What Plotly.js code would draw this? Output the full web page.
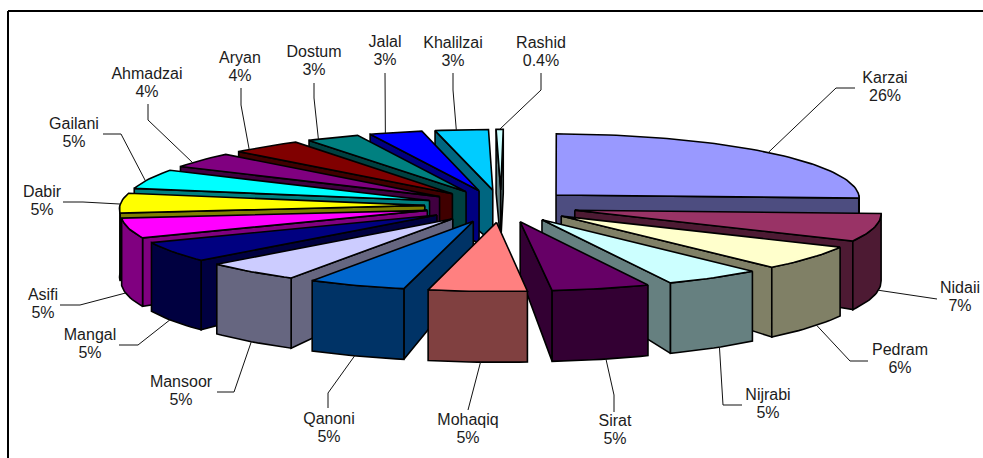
<!DOCTYPE html>
<html>
<head>
<meta charset="utf-8">
<script src="https://cdn.plot.ly/plotly-3.0.1.min.js"></script>
<style>html,body{margin:0;padding:0;background:#fff}#chart{width:983px;height:458px}</style>
</head>
<body>
<div id="chart"></div>
<script>
// Candidate shares, clockwise from twelve o'clock
const candidates = ["Karzai","Nidaii","Pedram","Nijrabi","Sirat","Mohaqiq","Qanoni","Mansoor","Mangal","Asifi","Dabir","Gailani","Ahmadzai","Aryan","Dostum","Jalal","Khalilzai","Rashid"];
const shares = [26,7,6,5,5,5,5,5,5,5,5,5,4,4,3,3,3,0.4];
const shareLabels = ["26%","7%","6%","5%","5%","5%","5%","5%","5%","5%","5%","5%","4%","4%","3%","3%","3%","0.4%"];
const sliceColors = ["#9999FF","#993366","#FFFFCC","#CCFFFF","#660066","#FF8080","#0066CC","#CCCCFF","#000080","#FF00FF","#FFFF00","#00FFFF","#800080","#800000","#008080","#0000FF","#00CCFF","#CCFFFF"];

// Label placement and the elbows of the leader lines, in pixels
const labelX = [885,960,900,768,615,468,329,181,90,43,42,74,147,240,314,385,453,541];
const labelY = [79,289,351,396,422,421,420,383,336,296,193,125,75,59,53,43,44,44];
const labelGap = 17.5;
const elbows = [
  [[836,88],[855,88]], [[937,299]], [[850,361],[868,361]], [[723,405],[742,405]],
  [[614,395],[614,412]], [[468,410]], [[328,393],[328,408]], [[234,392],[217,392]],
  [[138,345],[119,345]], [[80,305],[60,305]], [[83,202],[63,202]], [[121,134],[103,134]],
  [[148,120],[148,104]], [[241,105],[241,88]], [[314,98],[314,83]], [[385,88],[385,73]],
  [[453,90],[453,73]], [[541,90],[541,73]]
];
// Where on the slice rim each leader starts, as a fraction of the slice's sweep
const leaderAt = [0.5,0.32,0.41,0.43,0.45,0.47,0.52,0.5,0.56,0.65,0.45,0.4,0.3,0.2,0.2,0.3,0.4,0.5];

// Projection of the exploded pie
const view = {cx:501, cy:206, radius:305, tilt:0.212, depth:67, persp:0.0435, explode:0.25, start:0.5};

const total = shares.reduce((a,b)=>a+b,0);
const rad = d => d*Math.PI/180;

function project(slice, theta, rho, down){
  const X = view.explode*Math.sin(rad(slice.mid)) + rho*Math.sin(rad(theta));
  const Y = view.explode*Math.cos(rad(slice.mid)) + rho*Math.cos(rad(theta));
  const s = 1/(1+view.persp*Y);
  return [
    view.cx + view.radius*X*s,
    view.cy - view.radius*view.tilt*Y*s + down*view.depth*(0.79+0.21*rho)*s
  ];
}
function arc(slice, a, b, down){
  const n = Math.max(2, Math.ceil(Math.abs(b-a)/1.5));
  const out = [];
  for(let i=0;i<=n;i++) out.push(project(slice, a+(b-a)*i/n, 1, down));
  return out;
}
function signedArea(pts){
  let s = 0;
  pts.forEach((p,i)=>{const q = pts[(i+1)%pts.length]; s += p[0]*q[1]-q[0]*p[1];});
  return s;
}
function halfTone(hex){
  const v = parseInt(hex.slice(1),16);
  return `rgb(${Math.round((v>>16&255)/2)},${Math.round((v>>8&255)/2)},${Math.round((v&255)/2)})`;
}
function polygon(pts, fill, name){
  return {
    type:"scatter", mode:"lines", name,
    x:pts.map(p=>p[0]).concat(pts[0][0]),
    y:pts.map(p=>p[1]).concat(pts[0][1]),
    fill:"toself", fillcolor:fill,
    line:{color:"#000",width:1.6,shape:"linear"},
    hoverinfo:"skip", showlegend:false
  };
}

// Build slice geometry from the shares
let running = 0;
const slices = shares.map((v,i)=>{
  const t0 = view.start + running/total*360;
  running += v;
  const t1 = view.start + running/total*360;
  return {i, t0, t1, mid:(t0+t1)/2};
});

// Painter's order: rear slices first
const order = slices.slice().sort((a,b)=>Math.cos(rad(b.mid))-Math.cos(rad(a.mid)));
const traces = [];
order.forEach(sl=>{
  const name = candidates[sl.i], top = sliceColors[sl.i], wall = halfTone(top);
  const wallFor = (theta, sign)=>{
    const q = [project(sl,theta,0,0), project(sl,theta,1,0), project(sl,theta,1,1), project(sl,theta,0,1)];
    if(signedArea(q)*sign > 0) traces.push(polygon(q, wall, name+" side"));
  };
  wallFor(sl.t0, -1);
  wallFor(sl.t1, 1);
  const a = Math.max(sl.t0, 90), b = Math.min(sl.t1, 270);
  if(b > a){
    traces.push(polygon(arc(sl,a,b,0).concat(arc(sl,b,a,1)), wall, name+" rim"));
  }
  traces.push(polygon([project(sl,sl.t0,0,0)].concat(arc(sl,sl.t0,sl.t1,0)), top, name));
});

// Leader lines run from the slice rim out to the label
slices.forEach(sl=>{
  const theta = sl.t0 + (sl.t1-sl.t0)*leaderAt[sl.i];
  const front = theta > 92 && theta < 268;
  const start = project(sl, theta, 1, front ? 1 : 0);
  const pts = [start].concat(elbows[sl.i]);
  traces.push({
    type:"scatter", mode:"lines", x:pts.map(p=>p[0]), y:pts.map(p=>p[1]),
    line:{color:"#111",width:1}, hoverinfo:"skip", showlegend:false, name:candidates[sl.i]+" leader"
  });
});

const labelFont = {family:"Liberation Sans, Arial, sans-serif", size:16, color:"#1c1c1c"};
traces.push({
  type:"scatter", mode:"text", x:labelX, y:labelY, text:candidates,
  textposition:"middle center", textfont:labelFont, hoverinfo:"skip", showlegend:false
});
traces.push({
  type:"scatter", mode:"text", x:labelX, y:labelY.map(y=>y+labelGap), text:shareLabels,
  textposition:"middle center", textfont:labelFont, hoverinfo:"skip", showlegend:false
});

const layout = {
  width:983, height:458,
  margin:{l:0,r:0,t:0,b:0},
  paper_bgcolor:"#fff", plot_bgcolor:"#fff",
  xaxis:{range:[0,983],visible:false,fixedrange:true},
  yaxis:{range:[458,0],visible:false,fixedrange:true},
  showlegend:false,
  shapes:[
    {type:"line",xref:"x",yref:"y",x0:8,y0:11,x1:983,y1:11,line:{color:"#000",width:2}},
    {type:"line",xref:"x",yref:"y",x0:8,y0:11,x1:8,y1:458,line:{color:"#000",width:2}}
  ]
};
Plotly.newPlot("chart", traces, layout, {displayModeBar:false, staticPlot:true});
</script>
</body>
</html>
